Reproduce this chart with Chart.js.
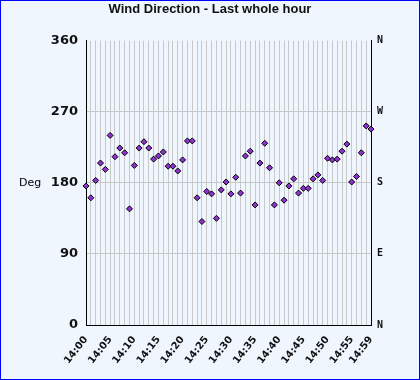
<!DOCTYPE html>
<html>
<head>
<meta charset="utf-8">
<script src="https://cdn.jsdelivr.net/npm/chart.js@4"></script>
<style>
    body { margin: 0; background: #fff; }
    canvas { display: block; }
</style>
</head>
<body>
<canvas id="wind-chart" width="420" height="380"></canvas>
<script>
const minuteLabels = [
    "14:00", "14:01", "14:02", "14:03", "14:04", "14:05", "14:06", "14:07", "14:08", "14:09",
    "14:10", "14:11", "14:12", "14:13", "14:14", "14:15", "14:16", "14:17", "14:18", "14:19",
    "14:20", "14:21", "14:22", "14:23", "14:24", "14:25", "14:26", "14:27", "14:28", "14:29",
    "14:30", "14:31", "14:32", "14:33", "14:34", "14:35", "14:36", "14:37", "14:38", "14:39",
    "14:40", "14:41", "14:42", "14:43", "14:44", "14:45", "14:46", "14:47", "14:48", "14:49",
    "14:50", "14:51", "14:52", "14:53", "14:54", "14:55", "14:56", "14:57", "14:58", "14:59",
];

const windDirection = [
    176, 161, 183, 205, 197, 240, 213, 224, 218, 147,
    202, 224, 232, 224, 210, 214, 219, 201, 201, 195,
    209, 233, 233, 161, 131, 169, 166, 135, 171, 181,
    166, 187, 167, 214, 220, 152, 205, 230, 199, 152,
    180, 158, 176, 185, 167, 173, 173, 185, 190, 183,
    211, 209, 210, 220, 229, 181, 188, 218, 252, 248,
];

// x labels that are actually printed
const shownTimes = ["14:00", "14:05", "14:10", "14:15", "14:20", "14:25", "14:30",
    "14:35", "14:40", "14:45", "14:50", "14:55", "14:59"];

const degTicks = [0, 90, 180, 270, 360];
const compassTicks = ["N", "E", "S", "W", "N"];

// background + blue frame + the horizontal "Deg" label
const framePlugin = {
    id: "frame",
    beforeDraw(chart) {
        const ctx = chart.ctx;
        ctx.save();
        ctx.fillStyle = "#eff6fe";
        ctx.fillRect(0, 0, chart.width, chart.height);
        ctx.strokeStyle = "#0000ff";
        ctx.lineWidth = 2;
        ctx.strokeRect(0, 0, chart.width, chart.height);
        ctx.restore();
    },
    afterDraw(chart) {
        const ctx = chart.ctx;
        const y = chart.scales.y.getPixelForValue(180);
        ctx.save();
        ctx.fillStyle = "#000";
        ctx.font = "11px 'DejaVu Sans'";
        ctx.textAlign = "left";
        ctx.textBaseline = "middle";
        ctx.fillText("Deg", 19, y);
        ctx.restore();
    },
};

const el = document.getElementById("wind-chart");
new Chart(el, {
    type: "line",
    data: {
        labels: minuteLabels,
        datasets: [
            {
                label: "Wind Direction",
                data: windDirection,
                showLine: false,
                pointStyle: "rectRot",
                pointRadius: 3,
                pointHoverRadius: 3,
                backgroundColor: "#9030d0",
                borderColor: "#000",
                borderWidth: 1,
                clip: false,
            },
        ],
    },
    options: {
        responsive: false,
        animation: false,
        events: [],
        layout: { padding: 0 },
        plugins: {
            legend: { display: false },
            tooltip: { enabled: false },
            title: {
                display: true,
                text: "Wind Direction - Last whole hour",
                color: "#111",
                font: { family: "'Liberation Sans'", size: 13, weight: "bold" },
                padding: { top: 2, bottom: 23 },
            },
        },
        scales: {
            x: {
                afterFit: (scale) => { scale.height = 55; },
                grid: {
                    color: "#c8c8c8",
                    drawTicks: false,
                },
                border: { color: "#000", width: 1 },
                ticks: {
                    autoSkip: false,
                    minRotation: 52,
                    maxRotation: 52,
                    padding: 9,
                    color: "#111",
                    font: { family: "'DejaVu Sans'", size: 10, weight: "bold" },
                    callback: function (value, index) {
                        const lbl = minuteLabels[index];
                        return shownTimes.includes(lbl) ? lbl : "";
                    },
                },
            },
            y: {
                position: "left",
                min: 0,
                max: 360,
                afterFit: (scale) => { scale.width = 86; },
                afterBuildTicks: (scale) => {
                    scale.ticks = degTicks.map((v) => ({ value: v }));
                },
                grid: {
                    color: (ctx) => (ctx.tick && ctx.tick.value === 360 ? "rgba(0,0,0,0)" : "#c8c8c8"),
                    drawTicks: false,
                },
                border: { color: "#000", width: 1 },
                ticks: {
                    padding: 8,
                    color: "#111",
                    font: { family: "'DejaVu Sans'", size: 13, weight: "bold" },
                },
            },
            compass: {
                position: "right",
                min: 0,
                max: 360,
                afterFit: (scale) => { scale.width = 49; },
                afterBuildTicks: (scale) => {
                    scale.ticks = degTicks.map((v) => ({ value: v }));
                },
                grid: { drawOnChartArea: false, drawTicks: false },
                border: { color: "#000", width: 1 },
                ticks: {
                    padding: 6,
                    color: "#111",
                    font: { family: "'DejaVu Sans Mono'", size: 10, weight: "bold" },
                    callback: (value) => compassTicks[degTicks.indexOf(value)],
                },
            },
        },
    },
    plugins: [framePlugin],
});
</script>
</body>
</html>
